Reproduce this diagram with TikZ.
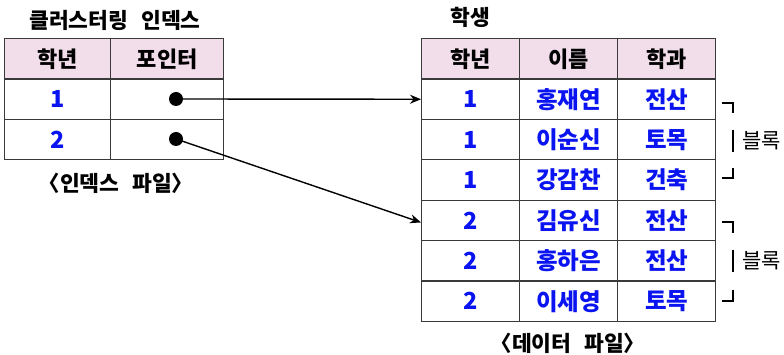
\documentclass[tikz,border=0pt]{standalone}
\usepackage{fontspec}
\setmainfont{Noto Sans CJK KR}
\usetikzlibrary{arrows.meta}
\definecolor{hdr}{HTML}{F2DDEB}
\definecolor{txtblue}{HTML}{0A14F0}
\definecolor{grid}{HTML}{3A3A3A}
\newcommand{\wsp}{\hspace{0.6em}}
\tikzset{
  cell/.style={draw=grid, line width=1.3pt, minimum height=40.4pt, inner sep=0pt, anchor=north west, font=\bfseries\fontsize{22}{22}\selectfont},
  hcell/.style={cell, fill=hdr},
  dcell/.style={cell, text=txtblue, font=\bfseries\fontsize{23.5}{23.5}\selectfont},
  lab/.style={font=\bfseries\fontsize{21.5}{21.5}\selectfont, inner sep=0pt},
  dot/.style={circle, fill=black, minimum size=14pt, inner sep=0pt},
  link/.style={line width=1.4pt, -{Stealth[length=11pt,width=9pt]}},
  brk/.style={line width=1.3pt, black},
  blk/.style={font=\fontsize{21}{21}\selectfont, inner sep=0pt}
}
\begin{document}
\begin{tikzpicture}[x=1pt,y=-1pt]
\useasboundingbox (0,0) rectangle (784,355);
% left index table
\node[lab] (t1) at (115,20) {클러스터링\wsp 인덱스};
\node[hcell, minimum width=106pt] (ih1) at (4,38) {학년};
\node[hcell, minimum width=113pt] (ih2) at (110,38) {포인터};
\node[dcell, minimum width=106pt] (i11) at (4,78.4) {1};
\node[cell, minimum width=113pt] (i12) at (110,78.4) {};
\node[dcell, minimum width=106pt] (i21) at (4,118.8) {2};
\node[cell, minimum width=113pt] (i22) at (110,118.8) {};
\node[dot] (d1) at (176,99) {};
\node[dot] (d2) at (176,139) {};
\node[lab] (c1) at (116,183) {\kern-0.5em〈인덱스\wsp 파일〉\kern-0.5em};
% right data table
\node[lab] (t2) at (470,17) {학생};
\node[hcell, minimum width=98pt] (h1) at (421,38) {학년};
\node[hcell, minimum width=98pt] (h2) at (519,38) {이름};
\node[hcell, minimum width=98pt] (h3) at (617,38) {학과};
\foreach \r/\g/\n/\m in {1/1/홍재연/전산, 2/1/이순신/토목, 3/1/강감찬/건축, 4/2/김유신/전산, 5/2/홍하은/전산, 6/2/이세영/토목}{
  \node[dcell, minimum width=98pt] (r\r a) at (421,38+40.4*\r) {\g};
  \node[dcell, minimum width=98pt] (r\r b) at (519,38+40.4*\r) {\n};
  \node[dcell, minimum width=98pt] (r\r c) at (617,38+40.4*\r) {\m};
}
\node[lab] (c2) at (568,343) {\kern-0.5em〈데이터\wsp 파일〉\kern-0.5em};
% arrows
\draw[link] (d1.center) -- (r1a.west);
\draw[link] (d2.center) -- ([yshift=-2pt]r4a.west);
% block brackets
\draw[brk] (722,103) -| (733,113);
\draw[brk] (733,130) -- (733,152);
\node[blk, anchor=west] (bl1) at (742,141) {블록};
\draw[brk] (733,168) |- (722,178);
\draw[brk] (722,222) -| (733,233);
\draw[brk] (733,250) -- (733,272);
\node[blk, anchor=west] (bl2) at (742,261) {블록};
\draw[brk] (733,290) |- (722,301);
\end{tikzpicture}
\end{document}
